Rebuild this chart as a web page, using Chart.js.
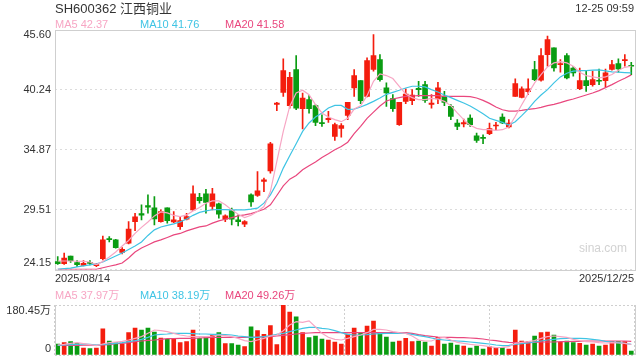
<!DOCTYPE html>
<html>
<head>
<meta charset="utf-8">
<script src="https://cdn.jsdelivr.net/npm/chart.js@4.4.1/dist/chart.umd.min.js"></script>
<style>
  html, body { margin: 0; padding: 0; background: #fff; }
  #wrap { position: relative; width: 640px; height: 360px; overflow: hidden; }
  #priceCanvas { position: absolute; left: 0; top: 0; }
  #volCanvas { position: absolute; left: 0; top: 286px; }
</style>
</head>
<body>
<div id="wrap">
  <canvas id="priceCanvas" width="640" height="286"></canvas>
  <canvas id="volCanvas" width="640" height="74"></canvas>
</div>
<script>
// --- DATA ---
const stockTitle = 'SH600362 江西铜业';
const stampText = '12-25 09:59';
const dateTickLabels = ['2025/08/14', '2025/12/25'];
const priceTicks = [24.15, 29.51, 34.87, 40.24, 45.60];
const volTicks = [0, 180.45];

const dates = [
  '08-14','08-15','08-18','08-19','08-20','08-21','08-22','08-25','08-26','08-27','08-28','08-29',
  '09-01','09-02','09-03','09-04','09-05','09-08','09-09','09-10','09-11','09-12','09-15','09-16',
  '09-17','09-18','09-19','09-22','09-23','09-24','09-25','09-26','09-29','09-30',
  '10-09','10-10','10-13','10-14','10-15','10-16','10-17','10-20','10-21','10-22','10-23','10-24',
  '10-27','10-28','10-29','10-30','10-31',
  '11-03','11-04','11-05','11-06','11-07','11-10','11-11','11-12','11-13','11-14','11-17','11-18',
  '11-19','11-20','11-21','11-24','11-25','11-26','11-27','11-28',
  '12-01','12-02','12-03','12-04','12-05','12-08','12-09','12-10','12-11','12-12','12-15','12-16',
  '12-17','12-18','12-19','12-22','12-23','12-24','12-25'
];

const opens = [
  24.85,24.67,25.36,24.76,24.52,24.76,24.49,25.12,26.89,26.80,25.69,26.50,28.44,29.16,29.88,29.67,28.44,29.67,28.41,27.99,
  28.65,29.49,30.62,30.93,29.79,30.03,28.65,29.43,28.59,28.20,30.84,30.78,32.03,32.99,38.94,40.02,38.82,42.06,38.55,39.36,
  38.82,37.27,37.57,36.07,36.79,37.96,40.41,41.07,39.66,42.06,42.95,40.41,39.45,37.12,39.21,39.27,40.38,40.71,38.94,39.42,
  39.66,38.76,37.27,37.18,37.72,36.13,35.98,36.31,37.00,37.81,36.91,39.66,39.57,40.08,42.06,41.10,43.40,44.00,42.50,43.31,
  42.20,40.35,41.07,40.71,41.10,41.07,42.06,42.59,42.86,42.41
];
const closes = [
  24.67,25.18,24.94,24.58,24.70,24.70,24.58,26.80,26.83,26.11,25.96,27.78,28.86,29.01,29.73,28.68,29.34,28.53,28.59,28.53,
  28.89,30.92,30.32,30.15,30.93,29.10,28.95,28.65,28.44,28.44,30.21,31.19,32.18,35.41,39.06,41.96,41.37,38.61,39.51,38.55,
  37.33,37.21,37.69,37.12,37.03,39.12,41.52,39.27,42.86,43.31,41.16,39.96,38.55,39.12,39.87,39.78,40.26,39.30,39.06,40.41,
  39.12,37.87,36.97,37.30,37.12,35.71,35.89,36.76,37.09,37.27,37.27,40.80,40.32,40.32,41.16,43.31,44.75,42.20,42.56,41.31,
  41.76,41.07,40.62,41.16,41.01,41.76,42.50,42.11,42.95,42.35
];
const highs = [
  25.30,25.63,25.36,24.94,24.94,24.94,24.70,27.15,27.09,26.85,26.11,28.44,29.19,29.94,30.83,30.68,29.49,29.67,29.34,28.89,
  29.19,31.64,30.98,31.34,31.43,30.09,29.04,29.64,29.04,28.53,30.93,32.93,32.33,35.53,39.12,43.01,41.82,43.31,39.96,39.72,
  38.91,38.01,38.31,37.27,37.21,39.12,42.06,41.07,43.10,45.20,43.40,40.86,39.81,39.12,40.32,40.26,41.01,41.01,39.81,40.92,
  40.11,38.91,37.57,37.63,38.01,36.37,36.22,37.27,37.33,38.10,37.57,41.22,40.50,41.22,42.80,43.94,45.05,44.00,42.95,43.49,
  42.35,42.20,41.91,41.91,42.11,42.11,42.89,43.01,43.40,42.71
];
const lows = [
  24.61,24.61,24.79,24.40,24.46,24.55,24.40,25.00,26.62,26.05,25.54,26.44,27.63,28.59,29.19,28.14,28.38,28.29,28.35,27.75,
  28.59,29.43,30.09,29.19,29.49,28.74,28.44,28.14,28.05,27.99,29.79,30.69,31.13,32.78,38.37,39.66,38.61,38.46,36.73,38.16,
  37.03,36.97,37.33,35.71,36.01,37.57,39.66,39.00,39.60,41.91,41.01,38.76,38.31,37.06,39.00,38.91,39.66,39.12,38.61,39.00,
  38.82,37.57,36.67,36.91,36.97,35.53,35.41,36.22,36.67,37.21,36.82,39.66,39.51,39.81,41.07,41.01,42.35,41.91,41.82,41.22,
  41.46,40.26,40.11,40.56,40.71,40.50,42.00,41.82,42.35,41.61
];

const ma5 = [
  24.91,24.91,24.91,24.89,24.87,24.82,24.60,24.87,25.27,25.72,26.26,26.75,27.38,27.92,28.41,28.95,29.31,29.22,29.00,28.89,
  29.04,29.40,29.71,30.09,30.30,30.30,29.94,29.49,29.10,28.80,29.01,29.34,29.79,31.13,33.83,36.52,38.76,39.96,40.20,39.81,
  38.91,38.17,37.81,37.57,37.39,37.70,38.52,38.82,39.72,41.01,41.67,41.52,41.25,40.56,39.87,39.54,39.36,39.36,39.48,39.42,
  39.21,38.82,38.17,37.57,37.06,36.79,36.67,36.67,36.61,36.67,36.91,37.87,38.91,39.90,40.86,41.61,42.29,42.65,42.77,42.65,
  42.35,41.82,41.52,41.40,41.31,41.40,41.61,42.00,42.26,42.37
];
const ma10 = [
  24.17,24.23,24.28,24.39,24.48,24.57,24.66,24.82,25.09,25.36,25.63,25.94,26.26,26.62,27.20,27.70,27.96,28.10,28.23,28.41,
  28.68,29.00,29.27,29.40,29.50,29.52,29.52,29.49,29.49,29.49,29.55,29.64,30.09,30.84,31.88,33.23,34.34,35.41,36.52,37.27,
  37.81,38.17,38.61,38.85,38.85,38.50,38.52,38.70,38.94,39.21,39.51,39.84,40.02,40.20,40.41,40.56,40.56,40.50,40.26,40.05,
  39.78,39.54,39.30,39.06,38.79,38.46,38.10,37.70,37.51,37.33,37.09,37.39,37.93,38.52,39.21,39.78,40.26,40.86,41.40,41.73,
  41.91,41.97,41.97,42.00,42.03,41.94,41.85,41.82,41.79,41.76
];
const ma20 = [
  24.17,24.17,24.17,24.17,24.17,24.17,24.17,24.31,24.44,24.57,24.73,25.18,25.72,26.08,26.35,26.62,26.80,27.02,27.25,27.38,
  27.61,27.79,27.96,28.05,28.30,28.50,28.65,28.80,28.95,29.04,29.16,29.34,29.55,29.94,30.78,31.64,32.24,32.57,33.08,33.44,
  33.77,34.19,34.52,34.87,35.17,35.55,36.31,36.97,37.69,38.25,38.79,39.24,39.42,39.54,39.66,39.69,39.72,39.72,39.72,39.72,
  39.66,39.66,39.66,39.66,39.63,39.51,39.30,39.03,38.70,38.46,38.34,38.34,38.40,38.49,38.55,38.67,38.82,38.94,39.09,39.27,
  39.42,39.60,39.78,39.96,40.17,40.44,40.71,41.01,41.28,41.58
];

// volume in 万 shares
const volumes = [
  39.7,44.4,48,42,25,23,25,94,50.5,44,39.7,80.5,97.4,90,97.4,83,61.4,56.6,60.2,44.4,
  48,90,60,66,72,80.5,40.9,40.9,36,30,102,87.7,74.6,105.8,37.3,180.45,155,138,80.5,62.5,
  68.6,57.7,54,47,39.7,75.8,97.4,81.8,104.7,122.7,78.2,65,47,50.5,60.2,48,50.5,47,32.5,63.8,
  39.7,43.3,36,32.5,25.3,32.5,21.7,30,25.3,26.5,21.7,90,50.5,48,68.6,80.5,83,72,45.8,50.5,
  44.4,42,36,39.7,32.5,36,48,48,48,14.4
];
const volMa5 = [
  36.1,38.5,42.1,44.5,40.9,37.3,33.7,39.7,44.5,46.9,49.3,54.1,60.2,66.2,78.2,90.2,87.8,84.2,78.2,72.2,
  68.6,66.2,66.2,66.2,68.6,72.2,69.8,66.2,60.2,51.7,48.1,54.1,60.2,68.6,72.2,87.8,108.3,120.3,118,123,
  101,78.2,63.8,56.5,54.1,60.2,66.2,72.2,80.6,92.6,92.6,90.2,84.2,80.6,78.2,68.6,54.1,50.5,50.5,60.2,
  63.8,54.1,45.7,42.1,38.5,36.1,33.7,30.1,26.5,27.7,30.1,42.1,45.7,48.1,51.7,60.2,66.2,68.6,66.2,63.8,
  56.5,51.7,48.1,46.9,44.5,43.3,44.5,43.3,42.1,38.0
];
const volMa10 = [
  34.9,36.1,37.3,38.5,39.7,38.5,36.1,37.3,39.7,42.1,44.5,48.1,51.7,56.5,63.8,72.2,74.6,75.8,78.2,78.2,
  78.2,77.0,75.8,75.8,74.6,74.6,73.4,72.2,68.6,66.2,63.8,63.8,66.2,69.8,74.6,78.2,84.2,90.2,96.2,99.8,
  99.8,96.2,93.8,87.8,80.6,74.6,72.2,72.2,73.4,75.8,77.0,78.2,78.2,78.2,78.2,74.6,69.8,66.2,61.4,56.5,
  54.1,51.7,50.5,49.3,46.9,44.5,42.1,39.7,36.1,33.7,34.9,38.5,40.9,43.3,46.9,50.5,54.1,56.5,58.9,60.2,
  60.2,60.2,58.9,56.5,54.1,49.3,46.9,44.5,42.1,38.2
];
const volMa20 = [
  34.9,34.9,34.9,34.9,35.2,35.2,34.9,36.1,37.3,40.9,42.1,44.5,48.1,50.5,52.9,54.1,56.5,58.9,58.9,60.2,
  60.2,60.2,61.4,62.6,63.8,63.8,63.8,63.8,63.8,63.8,63.8,65,66.2,66.2,68.6,71,73.4,75.8,78.2,79.4,
  80.6,80.6,80.6,80.6,80.6,80.6,80.6,80.6,80.6,80.6,80.6,80.6,80.6,81,81,78.2,73.4,69.8,67.4,65,
  63.8,63.8,62.6,62.6,61.4,60.2,57.7,54.1,51.7,48.1,45.7,44.5,44.5,44.5,45.7,46.9,46.9,46.9,48.1,48.1,
  49.3,49.3,50.5,50.5,50.5,50.5,50.5,50.5,50.5,49.3
];

const priceLegend = [['MA5 42.37', 55], ['MA10 41.76', 140], ['MA20 41.58', 225]];
const volLegend = [['MA5 37.97万', 55], ['MA10 38.19万', 140], ['MA20 49.26万', 225]];

// --- STYLE ---
const UP = '#f41d0e';
const DOWN = '#0a9c12';
const C_MA5 = '#f7a6c4';
const C_MA10 = '#3fc4e4';
const C_MA20 = '#e9477e';
const FONT = 'Arial, "Liberation Sans", "Noto Sans CJK SC", sans-serif';
const legendColors = [C_MA5, C_MA10, C_MA20];

const candleColors = opens.map((o, i) => closes[i] >= o ? UP : DOWN);

function maLine(data, color) {
    return { type: 'line', data: data, borderColor: color, borderWidth: 1.2, pointRadius: 0, tension: 0, order: 0, xAxisID: 'x', yAxisID: 'y' };
}

function text(ctx, str, x, y, color, size, align) {
    ctx.save();
    ctx.font = size + 'px ' + FONT;
    ctx.fillStyle = color;
    ctx.textAlign = align || 'left';
    ctx.textBaseline = 'middle';
    ctx.fillText(str, x, y);
    ctx.restore();
}

// ==========================================
// 1. PRICE (CANDLE) CHART
// ==========================================
const pricePlugin = {
    id: 'priceDecor',
    beforeDatasetsDraw(chart) {
        const { ctx, chartArea: a } = chart;
        ctx.save();
        ctx.strokeStyle = '#cfcfcf';
        ctx.lineWidth = 1;
        ctx.strokeRect(Math.round(a.left) + 0.5, Math.round(a.top) + 0.5, Math.round(a.right - a.left), Math.round(a.bottom - a.top));
        ctx.restore();
        text(ctx, 'sina.com', 603, 249, '#d2d2d2', 12, 'center');
    },
    afterDraw(chart) {
        const { ctx, chartArea: a } = chart;
        const ys = chart.scales.y;
        priceTicks.forEach((t, i) => {
            let y = ys.getPixelForValue(t);
            if (i === priceTicks.length - 1) y = a.top + 5;
            if (i === 0) y = a.bottom - 6.5;
            text(ctx, t.toFixed(2), 51, y, '#333', 11, 'right');
        });
        text(ctx, stockTitle, 55, 9, '#333', 13, 'left');
        text(ctx, stampText, 634, 8.5, '#333', 11, 'right');
        priceLegend.forEach((l, i) => text(ctx, l[0], l[1], 24.5, legendColors[i], 11, 'left'));
        text(ctx, dateTickLabels[0], 55, 279, '#333', 11, 'left');
        text(ctx, dateTickLabels[1], 634, 279, '#333', 11, 'right');
    }
};

new Chart(document.getElementById('priceCanvas'), {
    type: 'bar',
    data: {
        labels: dates,
        datasets: [
            maLine(ma5, C_MA5),
            maLine(ma10, C_MA10),
            maLine(ma20, C_MA20),
            { data: dates.map((d, i) => [opens[i], closes[i]]), backgroundColor: candleColors, barThickness: 5, minBarLength: 1, grouped: false, order: 1, borderWidth: 0 },
            { data: dates.map((d, i) => [lows[i], highs[i]]), backgroundColor: candleColors, barThickness: 1, grouped: false, order: 2, borderWidth: 0 }
        ]
    },
    options: {
        responsive: false, animation: false, events: [],
        layout: { padding: { left: 54.5, top: 30, right: 5.5, bottom: 16.5 } },
        plugins: { legend: { display: false }, tooltip: { enabled: false } },
        scales: {
            x: { display: false, offset: true },
            y: {
                min: priceTicks[0], max: priceTicks[priceTicks.length - 1],
                afterBuildTicks: s => { s.ticks = priceTicks.map(v => ({ value: v })); },
                afterFit: s => { s.width = 0; },
                ticks: { display: false },
                grid: { color: '#dcdcdc', drawTicks: false },
                border: { display: false, dash: [2, 3] }
            }
        }
    },
    plugins: [pricePlugin]
});

// ==========================================
// 2. VOLUME CHART
// ==========================================
const volPlugin = {
    id: 'volDecor',
    afterDraw(chart) {
        const { ctx, chartArea: a } = chart;
        ctx.save();
        ctx.strokeStyle = '#cfcfcf';
        ctx.lineWidth = 1;
        ctx.beginPath();
        ctx.moveTo(Math.round(a.left) + 0.5, a.top);
        ctx.lineTo(Math.round(a.left) + 0.5, a.bottom);
        ctx.moveTo(Math.round(a.right) + 0.5, a.top);
        ctx.lineTo(Math.round(a.right) + 0.5, a.bottom);
        ctx.stroke();
        ctx.restore();
        text(ctx, volTicks[1] + '万', 51, a.top + 5.5, '#333', 11, 'right');
        text(ctx, String(volTicks[0]), 51, a.bottom - 6.3, '#333', 11, 'right');
        volLegend.forEach((l, i) => text(ctx, l[0], l[1], 9.5, legendColors[i], 11, 'left'));
    }
};

new Chart(document.getElementById('volCanvas'), {
    type: 'bar',
    data: {
        labels: dates,
        datasets: [
            maLine(volMa5, C_MA5),
            maLine(volMa10, C_MA10),
            maLine(volMa20, C_MA20),
            { data: volumes, backgroundColor: candleColors, barThickness: 4, order: 1, borderWidth: 0, xAxisID: 'x', yAxisID: 'y' }
        ]
    },
    options: {
        responsive: false, animation: false, events: [],
        layout: { padding: { left: 54.5, top: 19, right: 5.5, bottom: 5 } },
        plugins: { legend: { display: false }, tooltip: { enabled: false } },
        scales: {
            x: { display: false, offset: true },
            xg: {
                type: 'linear', axis: 'x', position: 'bottom', min: 0, max: 3,
                afterBuildTicks: s => { s.ticks = [0, 1, 2, 3].map(v => ({ value: v })); },
                afterFit: s => { s.height = 0; },
                ticks: { display: false },
                grid: { color: '#cfcfcf', drawTicks: false },
                border: { display: false, dash: [2, 2] }
            },
            y: {
                min: volTicks[0], max: volTicks[1],
                afterBuildTicks: s => { s.ticks = volTicks.map(v => ({ value: v })); },
                afterFit: s => { s.width = 0; },
                ticks: { display: false },
                grid: { color: '#cfcfcf', drawTicks: false },
                border: { display: false, dash: [2, 2] }
            }
        }
    },
    plugins: [volPlugin]
});
</script>
</body>
</html>
